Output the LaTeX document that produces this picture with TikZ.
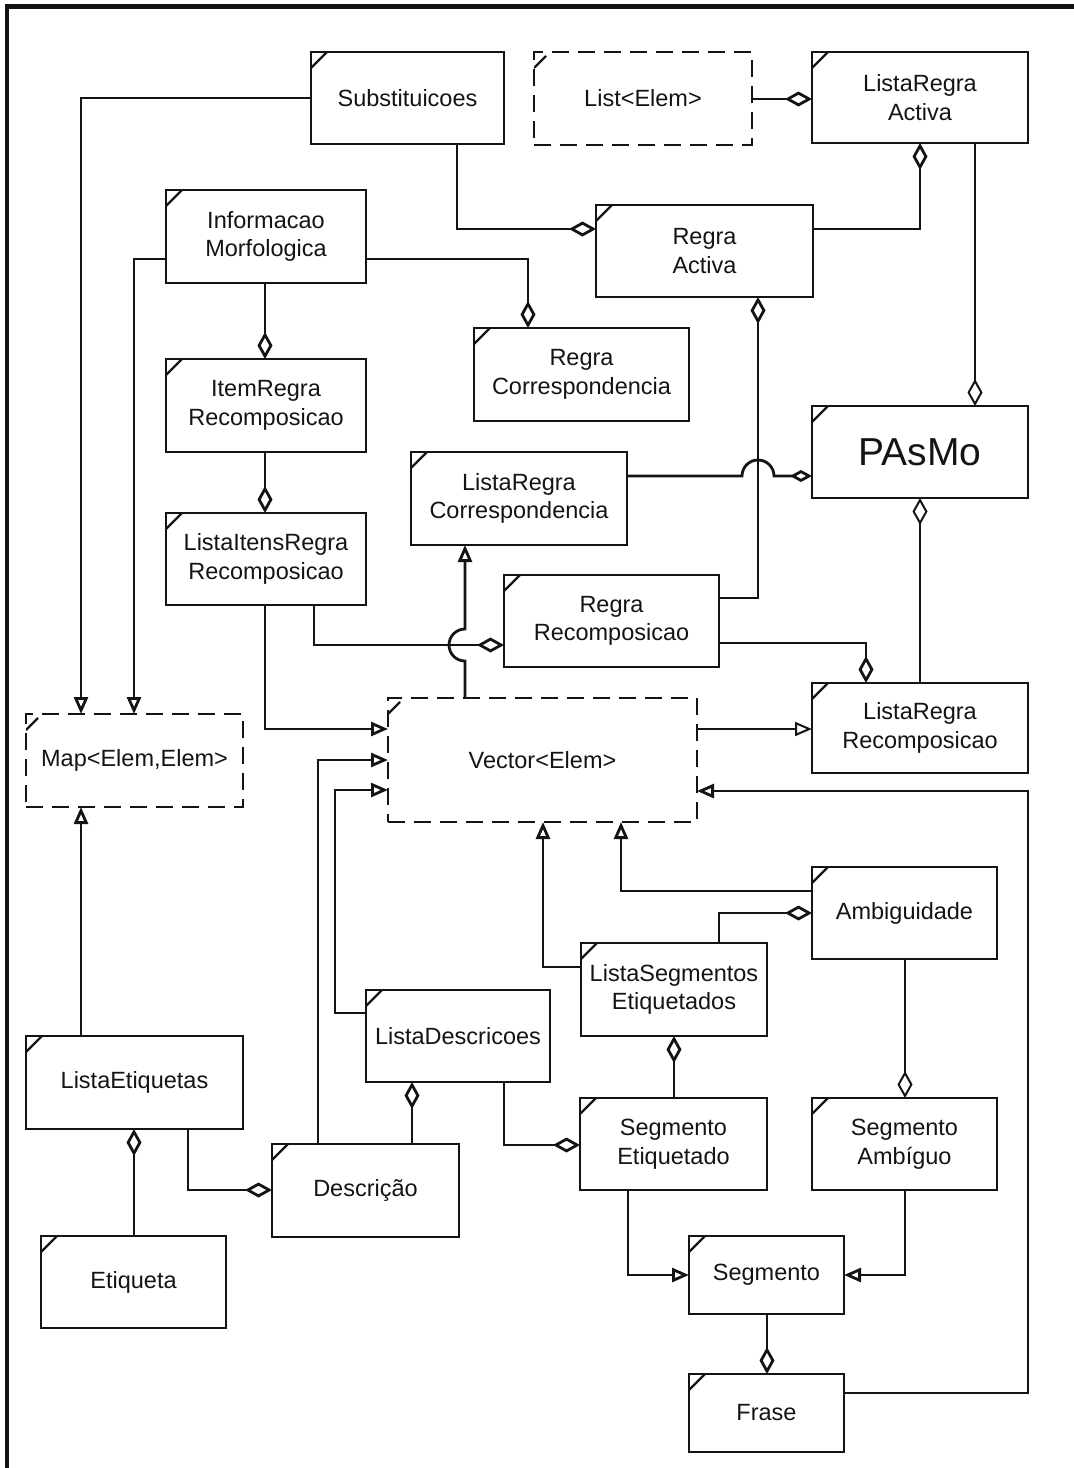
\documentclass[tikz,border=0pt]{standalone}
\usepackage{fontspec}
\setmainfont{Liberation Sans}
\usetikzlibrary{arrows.meta,calc}

\definecolor{ink}{HTML}{141414}

\tikzset{
  umlbox/.style={draw=ink, line width=2.5pt, fill=white, anchor=north west,
    inner sep=0pt, outer sep=0pt, align=center, text=ink,
    font=\fontsize{23.5}{28.5}\selectfont,
    path picture={\draw[ink, line width=2.4pt]
      ([yshift=-16pt]path picture bounding box.north west) --
      ([xshift=16pt]path picture bounding box.north west);}},
  tmplbox/.style={umlbox, dash pattern=on 17pt off 9pt},
  link/.style={draw=ink, line width=2.8pt},
  thinlink/.style={link, line width=2pt},
  gen/.style={link, -{Triangle[open, length=17pt, width=14pt]}},
  agg/.style={link, -{Diamond[open, length=27pt, width=15pt]}},
  aggstart/.style={link, {Diamond[open, length=27pt, width=15pt]}-},
}

\begin{document}
\begin{tikzpicture}[x=1pt, y=-1pt]
\useasboundingbox (0,0) rectangle (1074,1468);

% outer frame (top and left edges)
\draw[ink, line width=4.4pt] (7,1480) -- (7,6.5) -- (1090,6.5);

% classes
\node[umlbox, minimum width=193pt, minimum height=92pt] (subst) at (311,52) {Substituicoes};
\node[tmplbox, minimum width=218pt, minimum height=93pt] (list) at (534,52) {List<Elem>};
\node[umlbox, minimum width=216pt, minimum height=91pt] (lra) at (812,52) {ListaRegra\\Activa};
\node[umlbox, minimum width=200pt, minimum height=93pt] (info) at (166,190) {Informacao\\Morfologica};
\node[umlbox, minimum width=217pt, minimum height=92pt] (ra) at (596,205) {Regra\\Activa};
\node[umlbox, minimum width=215pt, minimum height=93pt] (rc) at (474,328) {Regra\\Correspondencia};
\node[umlbox, minimum width=200pt, minimum height=93pt] (itemrr) at (166,359) {ItemRegra\\Recomposicao};
\node[umlbox, minimum width=216pt, minimum height=92pt, font=\fontsize{39}{44}\selectfont] (pasmo) at (812,406) {PAsMo};
\node[umlbox, minimum width=216pt, minimum height=93pt] (lrc) at (411,452) {ListaRegra\\Correspondencia};
\node[umlbox, minimum width=200pt, minimum height=92pt] (lir) at (166,513) {ListaItensRegra\\Recomposicao};
\node[umlbox, minimum width=215pt, minimum height=92pt] (rr) at (504,575) {Regra\\Recomposicao};
\node[umlbox, minimum width=216pt, minimum height=90pt] (lrr) at (812,683) {ListaRegra\\Recomposicao};
\node[tmplbox, minimum width=217pt, minimum height=93pt] (map) at (26,714) {Map<Elem,Elem>};
\node[tmplbox, minimum width=309pt, minimum height=124pt] (vector) at (388,698) {Vector<Elem>};
\node[umlbox, minimum width=185pt, minimum height=92pt] (amb) at (812,867) {Ambiguidade};
\node[umlbox, minimum width=186pt, minimum height=93pt] (lse) at (581,943) {ListaSegmentos\\Etiquetados};
\node[umlbox, minimum width=184pt, minimum height=92pt] (ld) at (366,990) {ListaDescricoes};
\node[umlbox, minimum width=217pt, minimum height=93pt] (le) at (26,1036) {ListaEtiquetas};
\node[umlbox, minimum width=187pt, minimum height=92pt] (se) at (580,1098) {Segmento\\Etiquetado};
\node[umlbox, minimum width=185pt, minimum height=92pt] (sa) at (812,1098) {Segmento\\Ambíguo};
\node[umlbox, minimum width=187pt, minimum height=93pt] (desc) at (272,1144) {Descrição};
\node[umlbox, minimum width=185pt, minimum height=92pt] (etiq) at (41,1236) {Etiqueta};
\node[umlbox, minimum width=155pt, minimum height=78pt] (seg) at (689,1236) {Segmento};
\node[umlbox, minimum width=155pt, minimum height=78pt] (frase) at (689,1374) {Frase};

% generalisations into Map<Elem,Elem>
\draw[gen] (subst.west) -| ($(map.north west)+(55,0)$);
\draw[gen] ($(info.north west)+(0,69)$) -| ($(map.north west)+(108,0)$);
\draw[gen] ($(le.north west)+(55,0)$) -- ($(map.south west)+(55,0)$);

% aggregations in the upper part
\draw[agg] ($(info.north east)+(0,69)$) -| ($(rc.north west)+(54,0)$);
\draw[agg] ($(subst.south west)+(146,0)$) |- ($(ra.north west)+(0,24)$);
\draw[agg] ($(list.north east)+(0,47)$) -- ($(lra.north west)+(0,47)$);
\draw[agg] ($(ra.north east)+(0,24)$) -| ($(lra.south west)+(108,0)$);
\draw[agg, thinlink] ($(lra.south west)+(163,0)$) -- ($(pasmo.north west)+(163,0)$);
\draw[agg] ($(info.south west)+(99,0)$) -- ($(itemrr.north west)+(99,0)$);
\draw[agg] ($(itemrr.south west)+(99,0)$) -- ($(lir.north west)+(99,0)$);
\draw[aggstart] ($(ra.south west)+(162,0)$) |- ($(rr.north east)+(0,23)$);
\draw[link, -{Diamond[open, length=22pt, width=12pt]}]
  ($(lrc.north east)+(0,24)$) -- ++(115,0)
  arc[start angle=180, end angle=360, radius=16] -- ($(pasmo.north west)+(0,70)$);
\draw[gen] ($(vector.north west)+(77,0)$) -- ++(0,-37)
  arc[start angle=90, end angle=270, radius=16] -- ($(lrc.south west)+(54,0)$);
\draw[agg] ($(lir.south west)+(148,0)$) |- ($(rr.north west)+(0,70)$);
\draw[agg] ($(rr.north east)+(0,68)$) -| ($(lrr.north west)+(54,0)$);
\draw[aggstart, thinlink] ($(pasmo.south west)+(108,0)$) -- ($(lrr.north west)+(108,0)$);

% generalisations into Vector<Elem>
\draw[gen] ($(lir.south west)+(99,0)$) |- ($(vector.north west)+(0,31)$);
\draw[gen, thinlink] ($(vector.north east)+(0,31)$) -- ($(lrr.north west)+(0,46)$);
\draw[gen] ($(desc.north west)+(46,0)$) |- ($(vector.north west)+(0,62)$);
\draw[gen] ($(ld.north west)+(0,23)$) -- ++(-31,0) |- ($(vector.north west)+(0,92)$);
\draw[gen] ($(frase.north east)+(0,19)$) -- ++(184,0) |- ($(vector.north east)+(0,93)$);
\draw[gen] ($(lse.north west)+(0,24)$) -| ($(vector.south west)+(155,0)$);
\draw[gen] ($(amb.north west)+(0,24)$) -| ($(vector.south west)+(233,0)$);

% aggregations in the lower part
\draw[agg] ($(lse.north west)+(138,0)$) |- ($(amb.north west)+(0,46)$);
\draw[aggstart] ($(lse.south west)+(93,0)$) -- ($(se.north west)+(94,0)$);
\draw[agg, thinlink] ($(amb.south west)+(93,0)$) -- ($(sa.north west)+(93,0)$);
\draw[aggstart] ($(le.south west)+(108,0)$) -- ($(etiq.north west)+(93,0)$);
\draw[agg] ($(le.south west)+(162,0)$) |- ($(desc.north west)+(0,46)$);
\draw[agg] ($(desc.north west)+(140,0)$) -- ($(ld.south west)+(46,0)$);
\draw[agg] ($(ld.south west)+(138,0)$) |- ($(se.north west)+(0,47)$);
\draw[agg] ($(seg.south west)+(78,0)$) -- ($(frase.north west)+(78,0)$);

% generalisations into Segmento
\draw[gen] ($(se.south west)+(48,0)$) |- ($(seg.north west)+(0,39)$);
\draw[gen] ($(sa.south west)+(93,0)$) |- ($(seg.north east)+(0,39)$);
\end{tikzpicture}
\end{document}
